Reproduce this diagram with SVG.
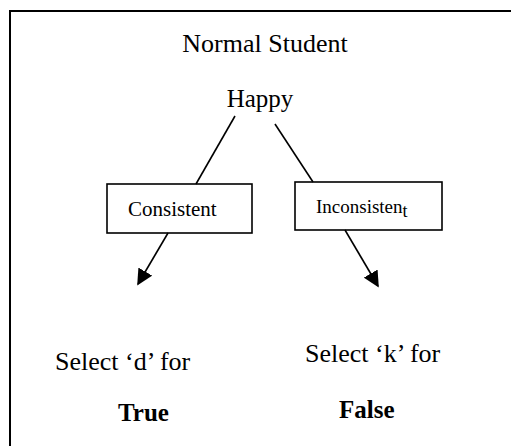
<svg xmlns="http://www.w3.org/2000/svg" width="511" height="446" viewBox="0 0 511 446" font-family="Times New Roman">
<style>
.box{fill:#fff;stroke:#000;stroke-width:1.6}
.ln{stroke:#000;stroke-width:1.6;fill:none}
</style>
<defs>
<marker id="ah" viewBox="0 0 10 10" markerUnits="userSpaceOnUse" markerWidth="16" markerHeight="16" refX="9" refY="5" orient="auto">
<path d="M0,0 L10,5 L0,10 z" fill="#000"/>
</marker>
</defs>
<rect width="511" height="446" fill="#fff"/>
<rect x="10" y="11" width="540" height="480" fill="none" stroke="#000" stroke-width="2"/>
<g id="title"><text x="265" y="52" font-family="Times New Roman" font-size="26" text-anchor="middle">Normal Student</text></g>
<g id="happy"><text x="260" y="107" font-family="Times New Roman" font-size="25" text-anchor="middle">Happy</text></g>
<g id="consistent">
<rect class="box" x="107" y="184" width="145" height="49"/>
<text x="128" y="216" font-family="Times New Roman" font-size="21">Consistent</text>
</g>
<g id="inconsistent">
<rect class="box" x="295" y="182" width="147" height="48"/>
<text x="316" y="213" font-family="Times New Roman" font-size="19">Inconsisten<tspan font-size="18" dy="4">t</tspan></text>
</g>
<g id="true">
<text x="55" y="370" font-family="Times New Roman" font-size="26">Select ‘d’ for</text>
<text x="118" y="421" font-family="Times New Roman" font-size="25" font-weight="bold">True</text>
</g>
<g id="false">
<text x="305" y="362" font-family="Times New Roman" font-size="26">Select ‘k’ for</text>
<text x="339" y="418" font-family="Times New Roman" font-size="25" font-weight="bold">False</text>
</g>
<g id="connectors">
<line class="ln" x1="235" y1="116" x2="196" y2="184"/>
<line class="ln" x1="275" y1="124" x2="313" y2="182"/>
<line class="ln" x1="168" y1="233" x2="138" y2="284" marker-end="url(#ah)"/>
<line class="ln" x1="345" y1="230" x2="378" y2="286" marker-end="url(#ah)"/>
</g>
</svg>
